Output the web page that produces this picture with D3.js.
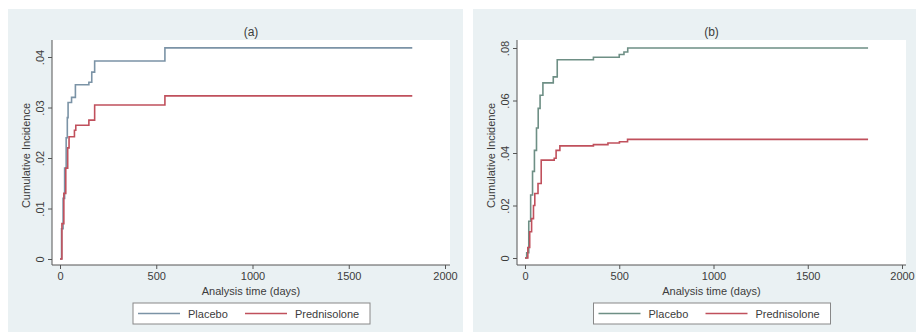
<!DOCTYPE html>
<html>
<head>
<meta charset="utf-8">
<script src="https://cdn.jsdelivr.net/npm/d3@7"></script>
<style>
  body { margin: 0; background: #fff; }
  text { font-family: "Liberation Sans", Arial, sans-serif; fill: #3c3c3c; }
</style>
</head>
<body>
<div id="chart"></div>
<script>
const seriesNames = ['Placebo', 'Prednisolone'];
const panelTitles = ['(a)', '(b)'];
const xTicks = [0, 500, 1000, 1500, 2000];
const yTicksA = [0, .01, .02, .03, .04];
const yTicksB = [0, .02, .04, .06, .08];

// [analysis time in days, cumulative incidence]
const placeboA = [[0,0],[8,.006],[16,.012],[24,.018],[32,.024],[38,.028],[42,.031],[60,.032],[80,.0345],
  [150,.035],[165,.037],[180,.0392],[545,.0418],[1830,.0418]];
const prednisoloneA = [[0,0],[10,.007],[20,.013],[30,.018],[40,.022],[47,.0242],[75,.0255],[82,.0265],
  [150,.0275],[180,.0305],[545,.0323],[1830,.0323]];
const placeboB = [[0,0],[9,.002],[20,.014],[30,.024],[40,.033],[50,.041],[61,.0495],[70,.057],[80,.062],
  [95,.0667],[150,.069],[171,.0755],[363,.0765],[500,.0775],[525,.0785],[545,.080],[1820,.080]];
const prednisoloneB = [[0,0],[15,.004],[25,.010],[35,.015],[45,.020],[52,.0246],[69,.0284],[86,.0373],
  [155,.038],[165,.041],[185,.0427],[363,.0432],[440,.0438],[501,.0443],[544,.0452],[1820,.0452]];

const width = 916, height = 333;
const red = '#c0505c';

const panels = [
  { title: panelTitles[0], yTicks: yTicksA, yMax: .04, series: [placeboA, prednisoloneA], colors: ['#7b93a6', red],
    bg: [8, 9, 455, 323], axisX: 52, axisY: 265, plotTop: 40, plotRight: 450,
    xRange: [60, 445], yRange: [259, 57] },
  { title: panelTitles[1], yTicks: yTicksB, yMax: .08, series: [placeboB, prednisoloneB], colors: ['#6e8f85', red],
    bg: [473, 9, 443, 323], axisX: 517, axisY: 265, plotTop: 40, plotRight: 906,
    xRange: [525, 902], yRange: [258, 48] }
];

const svg = d3.select('#chart')
  .append('svg')
    .attr('width', width)
    .attr('height', height);

let fmt = v => v === 0 ? '0' : d3.format('.2f')(v).replace(/^0/, '');

panels.forEach(p => {
  const g = svg.append('g');

  g.append('rect')
    .attr('x', p.bg[0]).attr('y', p.bg[1])
    .attr('width', p.bg[2]).attr('height', p.bg[3])
    .style('fill', '#eaf1f3');
  g.append('rect')
    .attr('x', p.axisX).attr('y', p.plotTop)
    .attr('width', p.plotRight - p.axisX).attr('height', p.axisY - p.plotTop)
    .style('fill', '#fff');

  const x = d3.scaleLinear().domain([0, 2000]).range(p.xRange);
  const y = d3.scaleLinear().domain([0, p.yMax]).range(p.yRange);

  // axes
  const xa = g.append('g')
    .attr('transform', `translate(0,${p.axisY})`)
    .call(d3.axisBottom(x).tickValues(xTicks).tickFormat(d3.format('d')).tickSize(4).tickSizeOuter(0).tickPadding(3));
  const ya = g.append('g')
    .attr('transform', `translate(${p.axisX},0)`)
    .call(d3.axisLeft(y).tickValues(p.yTicks).tickFormat(fmt).tickSize(4).tickSizeOuter(0));
  [xa, ya].forEach(a => {
    a.select('.domain').remove();
    a.selectAll('line').style('stroke', '#555');
    a.selectAll('text').style('font-size', '11px').style('fill', '#3c3c3c');
  });
  ya.selectAll('text')
    .attr('x', 0).attr('dy', 0)
    .attr('text-anchor', 'middle')
    .attr('transform', 'translate(-8,0) rotate(-90)');

  g.append('line')
    .attr('x1', p.axisX).attr('x2', p.plotRight)
    .attr('y1', p.axisY).attr('y2', p.axisY)
    .style('stroke', '#555');
  g.append('line')
    .attr('x1', p.axisX).attr('x2', p.axisX)
    .attr('y1', p.plotTop).attr('y2', p.axisY)
    .style('stroke', '#555');

  // curves
  const line = d3.line()
    .x(d => x(d[0]))
    .y(d => y(d[1]))
    .curve(d3.curveStepAfter);
  p.series.forEach((s, i) => {
    g.append('path')
      .datum(s)
      .attr('d', line)
      .style('fill', 'none')
      .style('stroke', p.colors[i])
      .style('stroke-width', 1.6);
  });

  // titles
  const cx = (p.axisX + p.plotRight) / 2;
  g.append('text')
    .attr('x', cx).attr('y', 36)
    .attr('text-anchor', 'middle')
    .style('font-size', '12px')
    .text(p.title);
  g.append('text')
    .attr('x', cx).attr('y', 295)
    .attr('text-anchor', 'middle')
    .style('font-size', '11px')
    .text('Analysis time (days)');
  g.append('text')
    .attr('transform', `translate(${p.axisX - 22},${(p.plotTop + p.axisY) / 2 + 3}) rotate(-90)`)
    .attr('text-anchor', 'middle')
    .style('font-size', '11px')
    .text('Cumulative Incidence');

  // legend
  const lx = cx - 118;
  const lg = g.append('g').attr('transform', `translate(${lx},303)`);
  lg.append('rect')
    .attr('width', 237).attr('height', 21)
    .style('fill', '#fff')
    .style('stroke', '#888');
  seriesNames.forEach((name, i) => {
    const ox = 5 + i * 107;
    lg.append('line')
      .attr('x1', ox).attr('x2', ox + 42)
      .attr('y1', 10.5).attr('y2', 10.5)
      .style('stroke', p.colors[i])
      .style('stroke-width', 1.4);
    lg.append('text')
      .attr('x', ox + 50).attr('y', 14.5)
      .style('font-size', '11px')
      .text(name);
  });
});
</script>
</body>
</html>
